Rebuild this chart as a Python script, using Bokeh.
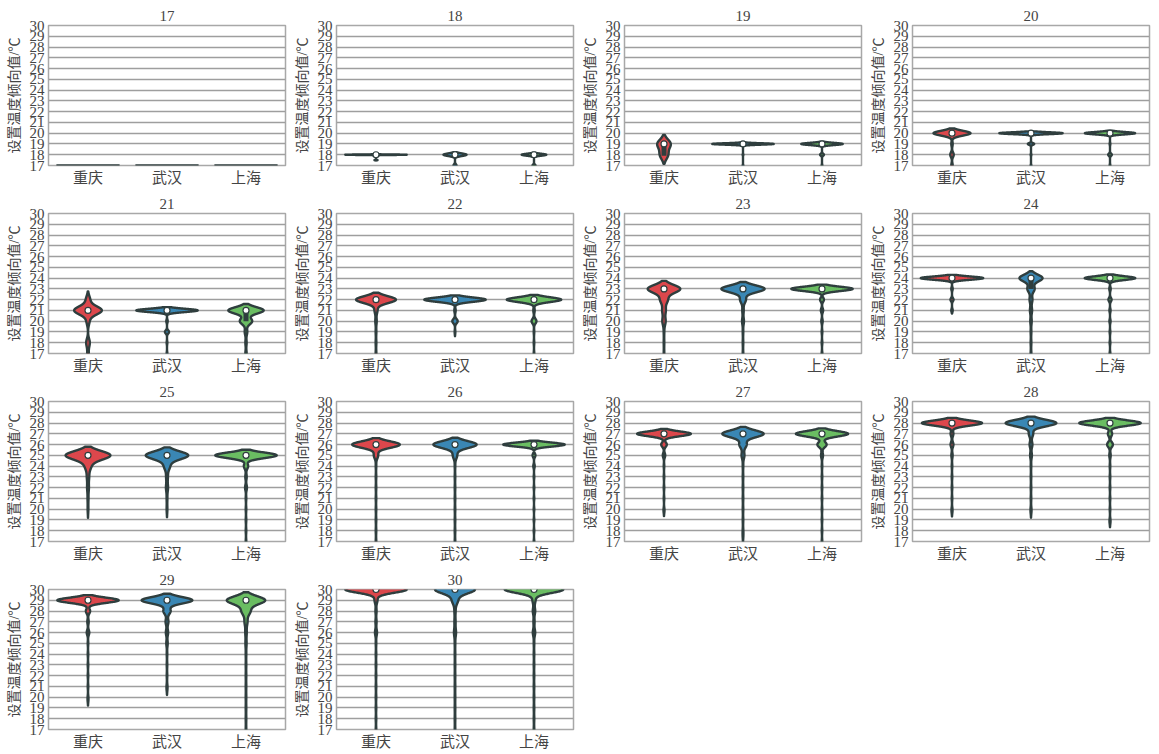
import numpy as np
from bokeh.plotting import figure
from bokeh.layouts import gridplot
from bokeh.models import Range1d, FixedTicker
from bokeh.embed import file_html
from bokeh.resources import INLINE

PANELS = list(range(17, 31))
CITIES = ["重庆", "武汉", "上海"]
COLORS = ["#dc474c", "#3a87b4", "#6abd62"]
Y_TICKS = list(range(17, 31))
Y_LABEL = "设置温度倾向值/℃"

# kernel bandwidth (°C) per panel, per city; 0 = all answers identical
CQ_BW = {17: 0, 18: 0.02, 19: 0.42, 20: 0.22, 21: 0.38, 22: 0.32, 23: 0.37,
         24: 0.15, 25: 0.4, 26: 0.3, 27: 0.22, 28: 0.24, 29: 0.24, 30: 0.3}
WH_BW = {17: 0, 18: 0.12, 19: 0.065, 20: 0.085, 21: 0.15, 22: 0.2, 23: 0.32,
         24: 0.32, 25: 0.37, 26: 0.32, 27: 0.32, 28: 0.3, 29: 0.3, 30: 0.37}
SH_BW = {17: 0, 18: 0.09, 19: 0.1, 20: 0.11, 21: 0.3, 22: 0.22, 23: 0.2,
         24: 0.17, 25: 0.26, 26: 0.18, 27: 0.25, 28: 0.24, 29: 0.37, 30: 0.32}

# relative answer counts at each set temperature, per panel
CQ_COUNTS = {
    17: {17: 1},
    18: {18: 8, 17.5: 0.4},
    19: {19: 36, 18: 22},
    20: {20: 53, 19: 2, 18: 5, 17: 2},
    21: {21: 68, 22: 10, 20: 7, 18: 9, 17: 3.5},
    22: {22: 83, 21: 6, 20: 3, 19: 1.5, 18: 1.5, 17: 1.5},
    23: {23: 78, 22: 18, 21: 8.5, 20: 8, 19: 1.4, 18: 1.4, 17: 1.4},
    24: {24: 61, 23: 1.4, 22: 3, 21: 1.4},
    25: {25: 116, 24: 15, 23: 5.7, 22: 4.6, 21: 2.3, 20: 1.9},
    26: {26: 93, 25: 8.4, 24: 1.1, 23: 1.1, 22: 1.1, 21: 1.1, 20: 1.1, 19: 1.1, 18: 1.1, 17: 1.1},
    27: {27: 77, 26: 8, 25: 3.5, 24: 0.8, 23: 0.8, 22: 0.8, 21: 0.8, 20: 0.8, 19.8: 0.8},
    28: {28: 94, 27: 4.4, 26: 4.5, 25: 2, 24: 0.9, 23: 0.9, 22: 0.9, 21: 0.9, 20: 0.9, 19.8: 0.9},
    29: {29: 96, 28: 6.6, 27: 2.2, 26: 4, 25: 0.9, 24: 0.9, 23: 0.9, 22: 0.9, 21: 0.9, 20: 0.9, 19.7: 0.9},
    30: {30: 120, 29: 5.6, 28: 2.2, 27: 2.2, 26: 4, 25: 1.1, 24: 1.1, 23: 1.1, 22: 1.1, 21: 1.1,
         20: 1.1, 19: 1.1, 18: 1.1, 17: 1.1},
}
WH_COUNTS = {
    17: {17: 1},
    18: {18: 18, 17: 2.4},
    19: {19: 26, 18: 0.3, 17: 0.3},
    20: {20: 35, 19: 3.5, 18: 0.4, 17: 0.4},
    21: {21: 60, 20: 1.4, 19: 4, 18: 0.7, 17: 0.7},
    22: {22: 80, 21: 1.8, 20: 7, 19: 0.9},
    23: {23: 90, 22: 12, 21: 3, 20: 4, 19: 1.2, 18: 1.2, 17: 1.2},
    24: {24: 48, 23: 15, 22: 6, 21: 4.5, 20: 3, 19: 1.5, 18: 1.5, 17: 1.5},
    25: {25: 102, 24: 14, 23: 4.2, 22: 5, 21: 1.8, 20: 1.8},
    26: {26: 90, 25: 9, 24: 1.2, 23: 1.2, 22: 1.2, 21: 1.2, 20: 1.2, 19: 1.2, 18: 1.2, 17: 1.2},
    27: {27: 86, 26: 15, 25: 6, 24: 1.2, 23: 1.2, 22: 1.2, 21: 1.2, 20: 1.2, 19: 1.2, 18: 1.2, 17.5: 1.2},
    28: {28: 99, 27: 8.4, 26: 5.5, 25: 3.5, 24: 1.1, 23: 1.1, 22: 1.1, 21: 1.1, 20: 1.1, 19.8: 1.1},
    29: {29: 99, 28: 14, 27: 5.6, 26: 4.5, 25: 2.8, 24: 1.1, 23: 1.1, 22: 1.1, 21: 1.1, 20.8: 1.1},
    30: {30: 96, 29: 14, 28: 2.8, 27: 2.8, 26: 5, 25: 1.4, 24: 1.4, 23: 1.4, 22: 1.4, 21: 1.4,
         20: 1.4, 19: 1.4, 18: 1.4, 17: 1.4},
}
SH_COUNTS = {
    17: {17: 1},
    18: {18: 14.4, 17: 1.8},
    19: {19: 27, 18: 2.5, 17: 0.45},
    20: {20: 36, 19: 0.5, 18: 2.6, 17: 0.5},
    21: {21: 69, 20: 24, 19: 5, 18: 2.5, 17: 2.5},
    22: {22: 78, 21: 2, 20: 7, 19: 0.8, 18: 0.8, 17: 0.8},
    23: {23: 80, 22: 5, 21: 3, 20: 1.8, 19: 0.9, 18: 0.9, 17: 0.9},
    24: {24: 56, 23: 1.6, 22: 3.5, 21: 1.3, 20: 1.3, 19: 0.8, 18: 0.8, 17: 0.8},
    25: {25: 104, 24: 7.2, 23: 2.4, 22: 3.2, 21: 1, 20: 1, 19: 1, 18: 1, 17: 1},
    26: {26: 72, 25: 3.4, 24: 1.7, 23: 0.7, 22: 0.7, 21: 0.7, 20: 0.7, 19: 0.7, 18: 0.7, 17: 0.7},
    27: {27: 85, 26: 15, 25: 3.3, 24: 0.9, 23: 0.9, 22: 0.9, 21: 0.9, 20: 0.9, 19: 0.9, 18: 0.9, 17: 0.9},
    28: {28: 96, 27: 6.6, 26: 9, 25: 2.2, 24: 0.9, 23: 0.9, 22: 0.9, 21: 0.9, 20: 0.9, 19: 0.9, 18.8: 0.9},
    29: {29: 92, 28: 21, 27: 7, 26: 3.5, 25: 2.8, 24: 1.4, 23: 1.4, 22: 1.4, 21: 1.4, 20: 1.4,
         19: 1.4, 18: 1.4, 17: 1.4},
    30: {30: 122, 29: 6, 28: 5, 27: 2.4, 26: 5, 25: 1.2, 24: 1.2, 23: 1.2, 22: 1.2, 21: 1.2,
         20: 1.2, 19: 1.2, 18: 1.2, 17: 1.2},
}
# interquartile boxes that are visible (panel, city index) -> (q1, q3)
BOXES = {(19, 0): (17.9, 19), (21, 2): (20, 21), (24, 1): (23, 24)}

BW = [CQ_BW, WH_BW, SH_BW]
COUNTS = [CQ_COUNTS, WH_COUNTS, SH_COUNTS]

SERIF = "'Liberation Serif', 'Noto Sans CJK SC'"
LINE = "#2f3e3e"
HALF = 0.4  # seaborn width 0.8


def kde(counts, bw, grid):
    d = np.zeros_like(grid)
    for t, c in counts.items():
        d += c * np.exp(-0.5 * ((grid - t) / bw) ** 2) / bw
    return d


def support(counts, bw):
    ts = list(counts.keys())
    return min(ts) - 2 * bw, max(ts) + 2 * bw


# common scale: largest density anywhere -> HALF
peak = 0.0
for ci in range(3):
    for pnl in PANELS:
        bw = BW[ci][pnl]
        if bw > 0:
            lo, hi = support(COUNTS[ci][pnl], bw)
            g = np.linspace(lo, hi, 800)
            peak = max(peak, kde(COUNTS[ci][pnl], bw, g).max())
SCALE = HALF / peak

figs = []
for pnl in PANELS:
    p = figure(width=288, height=188, x_range=Range1d(-0.5, 2.5), y_range=Range1d(17, 30),
               output_backend="svg", toolbar_location=None,
               min_border_left=48, min_border_right=3, min_border_top=25, min_border_bottom=21)
    p.title.text = str(pnl)
    p.title.align = "center"
    p.title.text_font = SERIF
    p.title.text_font_size = "15px"
    p.title.text_font_style = "normal"
    p.title.standoff = 9
    p.title.offset = 0

    p.outline_line_color = "#a8a8a8"
    p.outline_line_width = 1.5
    p.xgrid.visible = False
    p.ygrid.ticker = FixedTicker(ticks=Y_TICKS)
    p.ygrid.grid_line_color = "#9e9e9e"
    p.ygrid.grid_line_width = 1.3

    p.yaxis.ticker = FixedTicker(ticks=Y_TICKS)
    p.xaxis.ticker = FixedTicker(ticks=[0, 1, 2])
    p.xaxis.major_label_overrides = {i: c for i, c in enumerate(CITIES)}
    for ax in (p.xaxis[0], p.yaxis[0]):
        ax.axis_line_color = None
        ax.major_tick_line_color = None
        ax.minor_tick_line_color = None
        ax.major_tick_out = 0
        ax.major_tick_in = 0
    p.yaxis.major_label_text_font = SERIF
    p.yaxis.major_label_text_font_size = "15px"
    p.yaxis.major_label_standoff = 4
    p.yaxis.axis_label = Y_LABEL
    p.yaxis.axis_label_text_font = SERIF
    p.yaxis.axis_label_text_font_size = "14px"
    p.yaxis.axis_label_text_font_style = "normal"
    p.yaxis.axis_label_standoff = 5
    p.xaxis.major_label_text_font = SERIF
    p.xaxis.major_label_text_font_size = "15px"
    p.xaxis.major_label_standoff = 4

    for ci in range(3):
        counts = COUNTS[ci][pnl]
        bw = BW[ci][pnl]
        if bw == 0:
            val = list(counts.keys())[0]
            p.segment(x0=[ci - HALF], x1=[ci + HALF], y0=[val], y1=[val],
                      line_color=LINE, line_width=2.5)
            continue
        lo, hi = support(counts, bw)
        g = np.linspace(lo, hi, 800)
        w = kde(counts, bw, g) * SCALE
        xs = np.concatenate([ci + w, (ci - w)[::-1]])
        ys = np.concatenate([g, g[::-1]])
        p.patch(xs, ys, fill_color=COLORS[ci], line_color=LINE, line_width=2.4,
                line_join="round")
        if (pnl, ci) in BOXES:
            q1, q3 = BOXES[(pnl, ci)]
            p.segment(x0=[ci], x1=[ci], y0=[q1], y1=[q3], line_color=LINE, line_width=5)
        med = max(counts, key=counts.get)
        p.scatter(x=[ci], y=[med], size=6, fill_color="white", line_color=LINE, line_width=1.2)
    figs.append(p)

rows = [figs[i:i + 4] for i in range(0, len(figs), 4)]
while len(rows[-1]) < 4:
    rows[-1].append(None)
grid = gridplot(rows, toolbar_location=None)

open("out.html", "w").write(file_html(grid, INLINE))
